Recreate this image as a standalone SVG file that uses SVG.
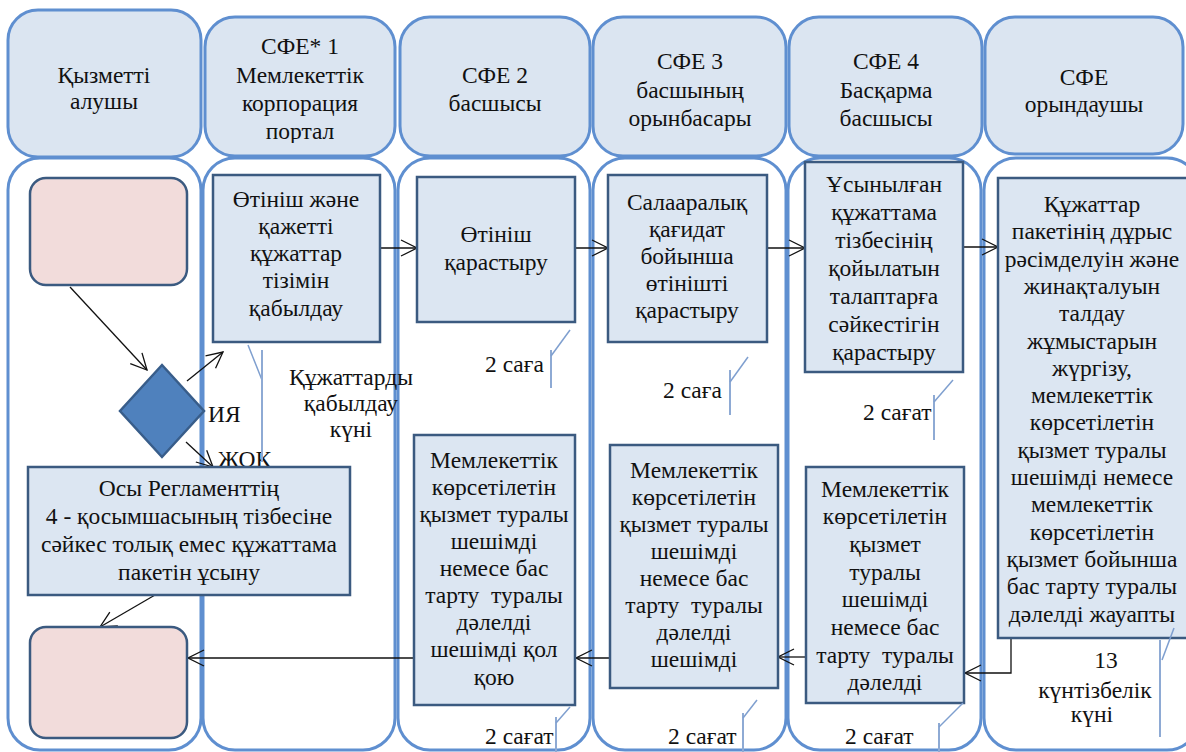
<svg xmlns="http://www.w3.org/2000/svg" width="1186" height="752" viewBox="0 0 1186 752">
<defs>
<style>
.hdr{fill:#dbe5f1;stroke:#5f8fd0;stroke-width:3}
.lane{fill:#ffffff;stroke:#5f8fd0;stroke-width:3}
.box{fill:#dce6f2;stroke:#3b5a80;stroke-width:2.5}
.term{fill:#f2dcdb;stroke:#3b5a80;stroke-width:2.5}
.dia{fill:#4f81bd;stroke:#385d8a;stroke-width:2.5}
.t{font-family:"Liberation Serif","Times New Roman",serif;font-size:23.5px;fill:#111;text-anchor:middle}
.tl{font-family:"Liberation Serif","Times New Roman",serif;font-size:23.5px;fill:#111}
.c{fill:none;stroke:#111;stroke-width:1.3}
.tick{fill:none;stroke:#7f9fcf;stroke-width:1.5}
.tickv{fill:none;stroke:#8eaad4;stroke-width:2}
</style>
<marker id="arrL" viewBox="0 0 18 18" refX="17" refY="9" markerWidth="18" markerHeight="18" markerUnits="userSpaceOnUse" orient="auto">
<polyline points="1,1 17,9 1,17" fill="none" stroke="#111" stroke-width="1.3"/>
</marker>
<clipPath id="clipPortal"><rect x="205" y="17" width="190" height="126"/></clipPath>
</defs>

<g id="lanes">
<rect class="lane" x="8" y="158" width="193" height="592" rx="32"/>
<rect class="lane" x="203" y="158" width="192" height="592" rx="32"/>
<rect class="lane" x="398" y="158" width="192" height="592" rx="32"/>
<rect class="lane" x="593" y="158" width="193" height="592" rx="32"/>
<rect class="lane" x="788" y="158" width="193" height="592" rx="32"/>
<rect class="lane" x="984" y="158" width="215" height="592" rx="32"/>
</g>

<g id="headers">
<g id="h1"><rect class="hdr" x="8" y="10" width="193" height="147" rx="30"/>
<text class="t" x="104" y="83">Қызметті</text><text class="t" x="104" y="109">алушы</text></g>
<g id="h2"><rect class="hdr" x="205" y="17" width="190" height="139" rx="30"/>
<text class="t" x="300" y="54">СФЕ* 1</text><text class="t" x="300" y="83">Мемлекеттік</text><text class="t" x="300" y="111">корпорация</text><text class="t" x="300" y="139" clip-path="url(#clipPortal)">портал</text></g>
<g id="h3"><rect class="hdr" x="400" y="17" width="190" height="139" rx="30"/>
<text class="t" x="495" y="83">СФЕ 2</text><text class="t" x="495" y="111">басшысы</text></g>
<g id="h4"><rect class="hdr" x="593" y="17" width="193" height="139" rx="30"/>
<text class="t" x="690" y="69">СФЕ 3</text><text class="t" x="690" y="98">басшының</text><text class="t" x="690" y="126">орынбасары</text></g>
<g id="h5"><rect class="hdr" x="789" y="17" width="193" height="139" rx="30"/>
<text class="t" x="886" y="69">СФЕ 4</text><text class="t" x="886" y="98">Басқарма</text><text class="t" x="886" y="126">басшысы</text></g>
<g id="h6"><rect class="hdr" x="985" y="17" width="198" height="137" rx="30"/>
<text class="t" x="1084" y="85">СФЕ</text><text class="t" x="1084" y="112">орындаушы</text></g>
</g>

<g id="connectors">
<line class="c" x1="70" y1="287" x2="147" y2="370" marker-end="url(#arrL)"/>
<line class="c" x1="187" y1="381" x2="223" y2="352" marker-end="url(#arrL)"/>
<line class="c" x1="186" y1="442" x2="213" y2="467" marker-end="url(#arrL)"/>
<line class="c" x1="155" y1="595" x2="100" y2="627" marker-end="url(#arrL)"/>
<line class="c" x1="380" y1="248" x2="417" y2="248" marker-end="url(#arrL)"/>
<line class="c" x1="575" y1="248" x2="608" y2="248" marker-end="url(#arrL)"/>
<line class="c" x1="767" y1="248" x2="805" y2="248" marker-end="url(#arrL)"/>
<line class="c" x1="963" y1="247" x2="998" y2="247" marker-end="url(#arrL)"/>
<polyline class="c" points="1011,638 1011,673 965,673" marker-end="url(#arrL)"/>
<line class="c" x1="806" y1="657" x2="778" y2="657" marker-end="url(#arrL)"/>
<line class="c" x1="610" y1="658" x2="576" y2="658" marker-end="url(#arrL)"/>
<line class="c" x1="414" y1="658" x2="188" y2="658" marker-end="url(#arrL)"/>
</g>

<g id="start"><rect class="term" x="30" y="178" width="157" height="107" rx="16"/></g>
<g id="end"><rect class="term" x="30" y="627" width="157" height="111" rx="16"/></g>
<g id="decision"><polygon class="dia" points="162,365 204,411 162,457 120,411"/>
<text class="tl" x="208" y="422">ИЯ</text><text class="tl" x="218" y="467">ЖОҚ</text></g>

<g id="reject">
<rect class="box" x="28" y="467" width="322" height="128"/>
<text class="t" x="189" y="496">Осы Регламенттің</text>
<text class="t" x="189" y="524">4 - қосымшасының тізбесіне</text>
<text class="t" x="189" y="552">сәйкес толық емес құжаттама</text>
<text class="t" x="189" y="580">пакетін ұсыну</text>
</g>

<g id="n1">
<rect class="box" x="213" y="175" width="167" height="167"/>
<text class="t" x="296" y="207">Өтініш және</text>
<text class="t" x="296" y="234">қажетті</text>
<text class="t" x="296" y="261">құжаттар</text>
<text class="t" x="296" y="288">тізімін</text>
<text class="t" x="296" y="316">қабылдау</text>
</g>

<g id="n2">
<rect class="box" x="417" y="177" width="158" height="145"/>
<text class="t" x="496" y="242">Өтініш</text>
<text class="t" x="496" y="270">қарастыру</text>
</g>

<g id="n3">
<rect class="box" x="608" y="175" width="159" height="167"/>
<text class="t" x="687" y="210">Салааралық</text>
<text class="t" x="687" y="237">қағидат</text>
<text class="t" x="687" y="264">бойынша</text>
<text class="t" x="687" y="291">өтінішті</text>
<text class="t" x="687" y="318">қарастыру</text>
</g>

<g id="n4">
<rect class="box" x="805" y="162" width="158" height="210"/>
<text class="t" x="884" y="192">Ұсынылған</text>
<text class="t" x="884" y="220">құжаттама</text>
<text class="t" x="884" y="248">тізбесінің</text>
<text class="t" x="884" y="276">қойылатын</text>
<text class="t" x="884" y="304">талаптарға</text>
<text class="t" x="884" y="332">сәйкестігін</text>
<text class="t" x="884" y="360">қарастыру</text>
</g>

<g id="n5">
<rect class="box" x="998" y="178" width="190" height="460"/>
<text class="t" x="1092" y="212">Құжаттар</text>
<text class="t" x="1092" y="239">пакетінің дұрыс</text>
<text class="t" x="1092" y="267">рәсімделуін және</text>
<text class="t" x="1092" y="294">жинақталуын</text>
<text class="t" x="1092" y="321">талдау</text>
<text class="t" x="1092" y="349">жұмыстарын</text>
<text class="t" x="1092" y="376">жүргізу,</text>
<text class="t" x="1092" y="403">мемлекеттік</text>
<text class="t" x="1092" y="430">көрсетілетін</text>
<text class="t" x="1092" y="458">қызмет туралы</text>
<text class="t" x="1092" y="485">шешімді немесе</text>
<text class="t" x="1092" y="512">мемлекеттік</text>
<text class="t" x="1092" y="540">көрсетілетін</text>
<text class="t" x="1092" y="567">қызмет бойынша</text>
<text class="t" x="1092" y="594">бас тарту туралы</text>
<text class="t" x="1092" y="622">дәлелді жауапты</text>
</g>

<g id="n6">
<rect class="box" x="806" y="467" width="158" height="236"/>
<text class="t" x="885" y="497">Мемлекеттік</text>
<text class="t" x="885" y="524">көрсетілетін</text>
<text class="t" x="885" y="552">қызмет</text>
<text class="t" x="885" y="580">туралы</text>
<text class="t" x="885" y="607">шешімді</text>
<text class="t" x="885" y="635">немесе бас</text>
<text class="t" x="885" y="663" xml:space="preserve">тарту  туралы</text>
<text class="t" x="885" y="690">дәлелді</text>
</g>

<g id="n7">
<rect class="box" x="610" y="445" width="168" height="243"/>
<text class="t" x="694" y="478">Мемлекеттік</text>
<text class="t" x="694" y="505">көрсетілетін</text>
<text class="t" x="694" y="532">қызмет туралы</text>
<text class="t" x="694" y="559">шешімді</text>
<text class="t" x="694" y="586">немесе бас</text>
<text class="t" x="694" y="613" xml:space="preserve">тарту  туралы</text>
<text class="t" x="694" y="640">дәлелді</text>
<text class="t" x="694" y="667">шешімді</text>
</g>

<g id="n8">
<rect class="box" x="414" y="435" width="161" height="270"/>
<text class="t" x="494" y="468">Мемлекеттік</text>
<text class="t" x="494" y="495">көрсетілетін</text>
<text class="t" x="494" y="522">қызмет туралы</text>
<text class="t" x="494" y="549">шешімді</text>
<text class="t" x="494" y="576">немесе бас</text>
<text class="t" x="494" y="603" xml:space="preserve">тарту  туралы</text>
<text class="t" x="494" y="630">дәлелді</text>
<text class="t" x="494" y="657">шешімді қол</text>
<text class="t" x="494" y="685">қою</text>
</g>

<g id="timings">
<line class="tick" x1="248" y1="345" x2="262" y2="380"/>
<line class="tickv" x1="262" y1="350" x2="262" y2="462"/>
<text class="t" x="351" y="385">Құжаттарды</text>
<text class="t" x="351" y="411">қабылдау</text>
<text class="t" x="351" y="437">күні</text>

<text class="tl" x="485" y="372">2 саға</text>
<line class="tickv" x1="551" y1="350" x2="551" y2="388"/>
<line class="tick" x1="551" y1="356" x2="570" y2="330"/>

<text class="tl" x="663" y="398">2 саға</text>
<line class="tickv" x1="730" y1="370" x2="730" y2="415"/>
<line class="tick" x1="730" y1="382" x2="748" y2="357"/>

<text class="tl" x="863" y="420">2 сағат</text>
<line class="tickv" x1="934" y1="395" x2="934" y2="440"/>
<line class="tick" x1="934" y1="402" x2="953" y2="380"/>

<text class="tl" x="485" y="744">2 сағат</text>
<line class="tickv" x1="556" y1="717" x2="556" y2="752"/>
<line class="tick" x1="556" y1="723" x2="570" y2="707"/>

<text class="tl" x="668" y="744">2 сағат</text>
<line class="tickv" x1="743" y1="713" x2="743" y2="752"/>
<line class="tick" x1="743" y1="718" x2="757" y2="700"/>

<text class="tl" x="845" y="744">2 сағат</text>
<line class="tickv" x1="939" y1="723" x2="939" y2="752"/>
<line class="tick" x1="939" y1="727" x2="963" y2="703"/>

<text class="t" x="1106" y="668">13</text>
<text class="t" x="1095" y="698">күнтізбелік</text>
<text class="t" x="1092" y="722">күні</text>
<line class="tickv" x1="1160" y1="640" x2="1160" y2="737"/>
<line class="tick" x1="1162" y1="660" x2="1174" y2="628"/>
</g>
</svg>
